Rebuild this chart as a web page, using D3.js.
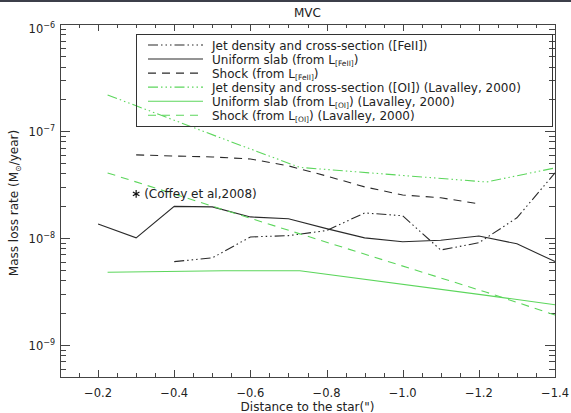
<!DOCTYPE html>
<html>
<head>
<meta charset="utf-8">
<script src="https://cdn.jsdelivr.net/npm/d3@7"></script>
<style>
  html, body { margin: 0; padding: 0; background: #fff; }
  svg { display: block; font-family: "DejaVu Sans", "Liberation Sans", sans-serif; }
  .axis path, .axis line { stroke: #444; shape-rendering: crispEdges; }
</style>
</head>
<body>
<svg id="chart" width="571" height="413"></svg>
<script>
// Mass loss rate along the jet, MVC
const xFe = [-0.2, -0.3, -0.4, -0.5, -0.6, -0.7, -0.8, -0.9, -1.0, -1.1, -1.2, -1.3, -1.4];
const jetFeX = [-0.4, -0.5, -0.6, -0.7, -0.8, -0.9, -1.0, -1.1, -1.2, -1.3, -1.4];
const jetFe  = [6.0e-9, 6.5e-9, 1.02e-8, 1.05e-8, 1.17e-8, 1.71e-8, 1.61e-8, 7.7e-9, 9.0e-9, 1.54e-8, 4.05e-8];
const slabFe = [1.35e-8, 1.0e-8, 1.97e-8, 1.95e-8, 1.57e-8, 1.51e-8, 1.22e-8, 1.0e-8, 9.2e-9, 9.5e-9, 1.04e-8, 8.8e-9, 6.0e-9];
const shockFeX = [-0.3, -0.4, -0.5, -0.6, -0.7, -0.8, -0.9, -1.0, -1.1, -1.2];
const shockFe  = [5.97e-8, 5.83e-8, 5.71e-8, 5.47e-8, 4.71e-8, 3.79e-8, 3.0e-8, 2.52e-8, 2.37e-8, 2.08e-8];

const xOI = [-0.225, -0.53, -0.73, -1.22, -1.4];
const jetOI   = [2.17e-7, 8.4e-8, 4.56e-8, 3.33e-8, 4.51e-8];
const slabOI  = [4.77e-9, 4.92e-9, 4.92e-9, 2.9e-9, 2.37e-9];
const shockOI = [4.05e-8, 1.83e-8, 1.09e-8, 3.1e-9, 1.9e-9];

const coffeyX = -0.3, coffeyY = 2.58e-8;

const xMajor = [-0.2, -0.4, -0.6, -0.8, -1.0, -1.2, -1.4];
const xLabels = ["\u22120.2", "\u22120.4", "\u22120.6", "\u22120.8", "\u22121.0", "\u22121.2", "\u22121.4"];
const yMajor = [1e-9, 1e-8, 1e-7, 1e-6];
const yExp = ["\u22129", "\u22128", "\u22127", "\u22126"];

const svg = d3.select("#chart");
const L = 60, R = 555, T = 24, B = 377;
const x = d3.scaleLinear().domain([-0.1, -1.4]).range([L, R]);
const y = d3.scaleLog().domain([5e-10, 1e-6]).range([B, T]);

// frame strip along the top edge
svg.append("rect").attr("x", 0).attr("y", 0).attr("width", 571).attr("height", 2).attr("fill", "#3c3f4a");

// minor ticks
const xMinor = d3.range(-0.15, -1.4, -0.05).map(v => +v.toFixed(2)).filter(v => !xMajor.some(m => Math.abs(m - v) < 1e-6));
const yMinor = [];
for (let e = -10; e <= -7; e++) for (let k = 2; k <= 9; k++) {
  const v = k * Math.pow(10, e);
  if (v >= 5e-10 && v < 1e-6) yMinor.push(v);
}

function addAxis(make, scale, tx, ty, major, minor, bigLen, smallLen) {
  const g = svg.append("g").attr("class", "axis").attr("transform", `translate(${tx},${ty})`);
  g.call(make(scale).tickValues(major).tickSize(-bigLen).tickSizeOuter(0).tickFormat(""));
  const g2 = svg.append("g").attr("class", "axis").attr("transform", `translate(${tx},${ty})`);
  g2.call(make(scale).tickValues(minor).tickSize(-smallLen).tickSizeOuter(0).tickFormat(""));
  g2.select(".domain").remove();
}
addAxis(d3.axisBottom, x, 0, B, xMajor, xMinor, 7, 4);
addAxis(d3.axisTop, x, 0, T, xMajor, xMinor, 7, 4);
addAxis(d3.axisLeft, y, L, 0, yMajor, yMinor, 10, 6);
addAxis(d3.axisRight, y, R, 0, yMajor, yMinor, 10, 6);

const txt = "#222";
// x tick labels
svg.append("g").selectAll("text").data(xMajor).join("text")
  .attr("x", d => x(d)).attr("y", 397).attr("text-anchor", "middle")
  .attr("font-size", 11.5).attr("fill", txt)
  .text((d, i) => xLabels[i]);

// y tick labels
const yl = svg.append("g").selectAll("text").data(yMajor).join("text")
  .attr("x", 55).attr("y", d => Math.max(y(d) + 5, 33)).attr("text-anchor", "end")
  .attr("font-size", 11.5).attr("fill", txt);
yl.append("tspan").text("10");
yl.append("tspan").attr("dy", -5).attr("font-size", 8).text((d, i) => yExp[i]);

// title and axis titles
svg.append("text").attr("x", 307.5).attr("y", 17).attr("text-anchor", "middle")
  .attr("font-size", 12).attr("fill", txt).text("MVC");
svg.append("text").attr("x", 307.5).attr("y", 411).attr("text-anchor", "middle")
  .attr("font-size", 12).attr("fill", txt).text("Distance to the star(\")");
const ylab = svg.append("text").attr("transform", "translate(18,203) rotate(-90)")
  .attr("text-anchor", "middle").attr("font-size", 12).attr("fill", txt);
ylab.append("tspan").text("Mass loss rate (M");
ylab.append("tspan").attr("font-size", 8).attr("dy", 3).text("\u2299");
ylab.append("tspan").attr("dy", -3).text("/year)");

// series
const black = "#2a2a2a", green = "#5cd65c";
const styles = {
  jet: "10,3,1.5,3,1.5,3,1.5,3",
  slab: null,
  shock: "8,6"
};
const series = [
  { xs: jetFeX, ys: jetFe, color: black, dash: styles.jet },
  { xs: xFe, ys: slabFe, color: black, dash: styles.slab },
  { xs: shockFeX, ys: shockFe, color: black, dash: styles.shock },
  { xs: xOI, ys: jetOI, color: green, dash: styles.jet },
  { xs: xOI, ys: slabOI, color: green, dash: styles.slab },
  { xs: xOI, ys: shockOI, color: green, dash: styles.shock }
];
const line = d3.line().x(d => x(d[0])).y(d => y(d[1]));
svg.append("g").selectAll("path").data(series).join("path")
  .attr("d", s => line(s.xs.map((v, i) => [v, s.ys[i]])))
  .attr("fill", "none").attr("stroke", s => s.color).attr("stroke-width", 1.1)
  .attr("stroke-dasharray", s => s.dash);

// Coffey et al. point
svg.append("path").attr("d", d3.symbol(d3.symbolAsterisk, 40)())
  .attr("transform", `translate(${x(coffeyX)},${y(coffeyY)})`)
  .attr("fill", "none").attr("stroke", "#111").attr("stroke-width", 1.2);
svg.append("text").attr("x", x(coffeyX) + 8).attr("y", y(coffeyY) + 4)
  .attr("font-size", 12).attr("fill", txt).text("(Coffey et al,2008)");

// legend
const lg = svg.append("g");
lg.append("rect").attr("x", 136.5).attr("y", 34.5).attr("width", 416).attr("height", 92)
  .attr("fill", "none").attr("stroke", "#333");
const legendRows = [
  { s: series[0], parts: [["Jet density and cross-section ([FeII])"]] },
  { s: series[1], parts: [["Uniform slab (from L"], ["[FeII]", "sub"], [")"]] },
  { s: series[2], parts: [["Shock (from L"], ["[FeII]", "sub"], [")"]] },
  { s: series[3], parts: [["Jet density and cross-section ([OI]) (Lavalley, 2000)"]] },
  { s: series[4], parts: [["Uniform slab (from L"], ["[OI]", "sub"], [") (Lavalley, 2000)"]] },
  { s: series[5], parts: [["Shock (from L"], ["[OI]", "sub"], [") (Lavalley, 2000)"]] }
];
legendRows.forEach((r, i) => {
  const cy = 45 + i * 14.05;
  lg.append("line").attr("x1", 148).attr("x2", 203).attr("y1", cy).attr("y2", cy)
    .attr("stroke", r.s.color).attr("stroke-width", 1.1).attr("stroke-dasharray", r.s.dash);
  const t = lg.append("text").attr("x", 212).attr("y", cy + 4.5).attr("font-size", 12).attr("fill", txt);
  r.parts.forEach(p => {
    if (p[1] === "sub") t.append("tspan").attr("font-size", 7.5).attr("dy", 2.5).text(p[0]);
    else if (t.selectAll("tspan").size() > 0) t.append("tspan").attr("dy", -2.5).text(p[0]);
    else t.append("tspan").text(p[0]);
  });
});
</script>
</body>
</html>
